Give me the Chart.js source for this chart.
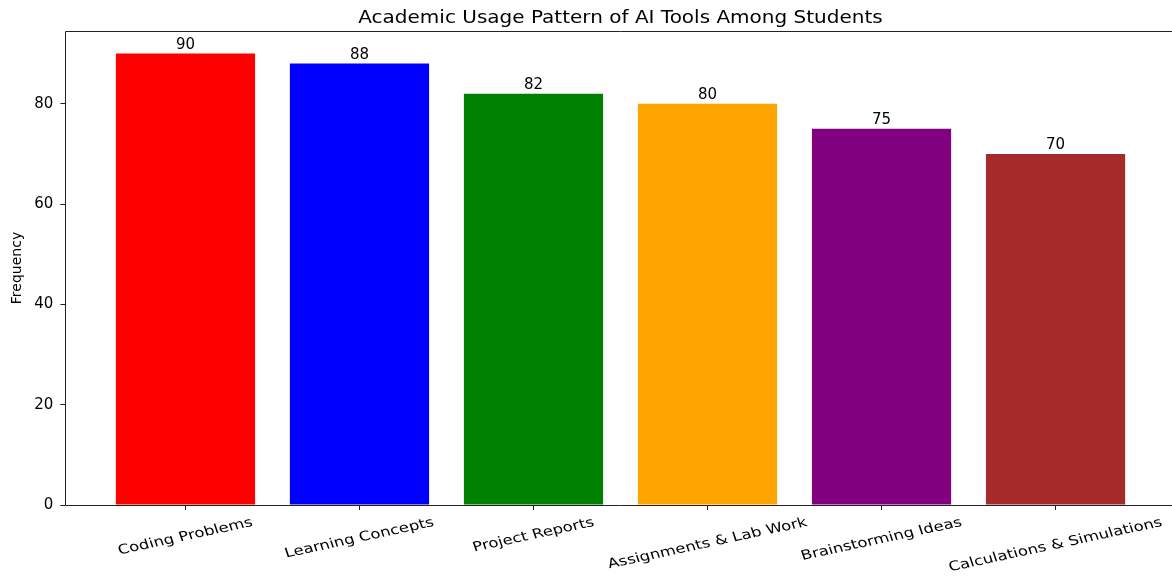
<!DOCTYPE html>
<html><head><meta charset="utf-8">
<script src="https://cdn.jsdelivr.net/npm/chart.js@4"></script>
<style>html,body{margin:0;padding:0;overflow:hidden;background:#fff}canvas{display:block}</style>
</head><body>
<canvas id="c" width="1180" height="577"></canvas>
<script>
const categories = ['Coding Problems', 'Learning Concepts', 'Project Reports', 'Assignments & Lab Work', 'Brainstorming Ideas', 'Calculations & Simulations'];
const frequency = [90, 88, 82, 80, 75, 70];
const barColors = ['#FF0000', '#0000FF', '#008000', '#FFA500', '#800080', '#A52A2A'];
const yTicks = [0, 20, 40, 60, 80];
const chartTitle = 'Academic Usage Pattern of AI Tools Among Students';
const yLabel = 'Frequency';

const FONT = "'DejaVu Sans', sans-serif";

const overlay = {
  id: 'overlay',
  afterDraw(chart) {
    const {ctx, chartArea: a, scales: {x}} = chart;
    ctx.save();
    // spines
    ctx.strokeStyle = '#222';
    ctx.lineWidth = 1;
    const L = Math.floor(a.left) + 0.5, T = Math.floor(a.top) + 0.5, B = Math.floor(a.bottom) + 0.5, R = Math.floor(a.right) + 0.5;
    ctx.beginPath();
    ctx.moveTo(L, B); ctx.lineTo(L, T); ctx.lineTo(R, T); ctx.lineTo(R, B); ctx.lineTo(L, B);
    ctx.stroke();
    // title
    ctx.fillStyle = '#000';
    ctx.textAlign = 'center';
    ctx.save();
    ctx.font = '20px ' + FONT;
    ctx.textBaseline = 'alphabetic';
    ctx.translate((a.left + a.right) / 2, 23.3);
    ctx.scale(1, 0.84);
    ctx.fillText(chartTitle, 0, 0);
    ctx.restore();
    // y label
    ctx.save();
    ctx.font = '14px ' + FONT;
    ctx.textBaseline = 'middle';
    ctx.translate(17, (a.top + a.bottom) / 2);
    ctx.rotate(-Math.PI / 2);
    ctx.fillText(yLabel, 0, 0);
    ctx.restore();
    // value labels
    ctx.font = '15px ' + FONT;
    ctx.textBaseline = 'alphabetic';
    const meta = chart.getDatasetMeta(0);
    meta.data.forEach((bar, i) => {
      ctx.fillText(String(frequency[i]), bar.x, bar.y - 5);
    });
    // x tick labels, rotated 15deg, centred on tick
    const F = 16.5, sy = 0.8;
    const ang = 15 * Math.PI / 180;
    ctx.font = F + 'px ' + FONT;
    ctx.textBaseline = 'middle';
    categories.forEach((lab, i) => {
      const W = ctx.measureText(lab).width;
      const cx = x.getPixelForValue(i);
      const cy = a.bottom + 11 + sy * (W * Math.sin(ang) + F * Math.cos(ang)) / 2;
      ctx.save();
      ctx.translate(cx, cy);
      ctx.scale(1, sy);
      ctx.rotate(-ang);
      ctx.fillText(lab, 0, 0);
      ctx.restore();
    });
    ctx.restore();
  }
};

new Chart(document.getElementById('c'), {
  type: 'bar',
  data: {
    datasets: [{
      data: frequency.map((v, i) => ({x: i, y: v})),
      backgroundColor: barColors,
      borderWidth: 0,
      barPercentage: 0.8,
      categoryPercentage: 1.0
    }]
  },
  options: {
    responsive: false,
    animation: false,
    devicePixelRatio: 1,
    layout: {padding: {top: 31, right: 4.4, left: 0, bottom: 0}},
    plugins: {legend: {display: false}, title: {display: false}, tooltip: {enabled: false}},
    scales: {
      x: {
        type: 'linear',
        offset: false,
        min: -0.69,
        max: 5.69,
        afterBuildTicks: s => { s.ticks = categories.map((_, i) => ({value: i})); },
        afterFit: s => { s.height = 72; },
        ticks: {display: false},
        border: {display: false},
        grid: {display: true, offset: false, drawOnChartArea: false, drawTicks: true, tickLength: 5, color: '#222', lineWidth: 1}
      },
      y: {
        min: 0,
        max: 94.5,
        afterBuildTicks: s => { s.ticks = yTicks.map(v => ({value: v})); },
        afterFit: s => { s.width = 65.4; },
        ticks: {color: '#000', font: {family: FONT, size: 15}, padding: 7},
        border: {display: false},
        grid: {display: true, drawOnChartArea: false, drawTicks: true, tickLength: 5, color: '#222', lineWidth: 1}
      }
    }
  },
  plugins: [overlay]
});
</script>
</body></html>
